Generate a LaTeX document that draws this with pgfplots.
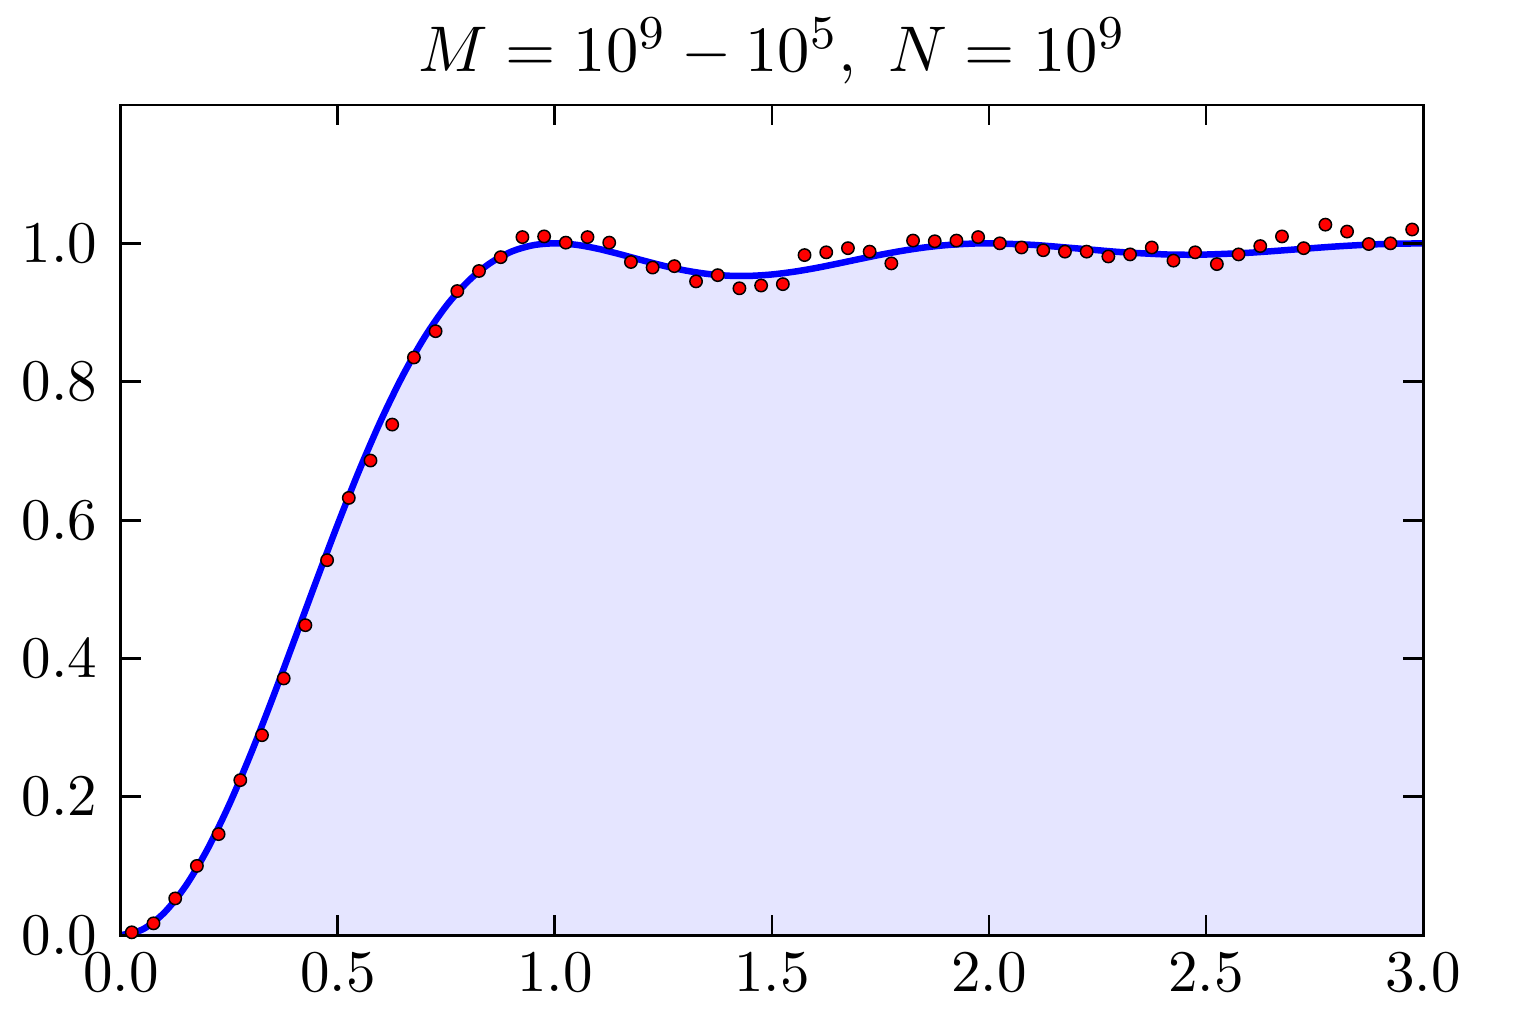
\documentclass[border=0pt]{standalone}
\usepackage{pgfplots}
\pgfplotsset{compat=1.18}
\begin{document}
\begin{tikzpicture}
\useasboundingbox (-20.5pt,-16.9pt) rectangle (235.95pt,158.5pt);
\begin{axis}[name=ax, at={(0,0)}, anchor=south west,
  scale only axis, width=220.7pt, height=140.7pt,
  xmin=0, xmax=3, ymin=0, ymax=1.2,
  xtick={0,0.5,1,1.5,2,2.5,3},
  ytick={0,0.2,0.4,0.6,0.8,1.0},
  tick align=inside, major tick length=3.4pt,
  xticklabel style={/pgf/number format/.cd,fixed,fixed zerofill,precision=1},
  yticklabel style={/pgf/number format/.cd,fixed,fixed zerofill,precision=1},
  tick label style={font=\fontsize{10}{12}\selectfont},
  xticklabel shift=-0.5pt, yticklabel shift=0.5pt,
  axis line style={line width=0.5pt}, every tick/.style={black, line width=0.5pt},
  title={$M=10^9-10^5,\ N=10^9$},
  title style={font=\fontsize{11}{13}\selectfont, yshift=-6pt},
  axis on top,
]
\addplot[draw=none, fill=blue!10] coordinates {
(0,0) (0.05,0.0082) (0.1,0.0325) (0.15,0.0719) (0.2,0.1249) (0.25,0.1894) (0.3,0.2632) (0.35,0.3434) (0.4,0.4272) (0.45,0.5119) (0.5,0.5947) (0.55,0.6733) (0.6,0.7454) (0.65,0.8096) (0.7,0.8647) (0.75,0.9099) (0.8,0.9453) (0.85,0.9711) (0.9,0.9881) (0.95,0.9973) (1.0,1.0) (1.05,0.9978) (1.1,0.9920) (1.15,0.9842) (1.2,0.9757) (1.25,0.9676) (1.3,0.9608) (1.35,0.9559) (1.4,0.9532) (1.45,0.9530) (1.5,0.9550) (1.55,0.9589) (1.6,0.9642) (1.65,0.9705) (1.7,0.9771) (1.75,0.9835) (1.8,0.9892) (1.85,0.9939) (1.9,0.9973) (1.95,0.9993) (2.0,1.0) (2.1,0.9978) (2.2,0.9928) (2.3,0.9875) (2.4,0.9841) (2.45,0.9835) (2.5,0.9838) (2.6,0.9864) (2.7,0.9909) (2.8,0.9955) (2.9,0.9988) (3.0,1.0)
} \closedcycle;
\addplot[blue, line width=1.1pt, smooth] coordinates {
(0,0) (0.05,0.0082) (0.1,0.0325) (0.15,0.0719) (0.2,0.1249) (0.25,0.1894) (0.3,0.2632) (0.35,0.3434) (0.4,0.4272) (0.45,0.5119) (0.5,0.5947) (0.55,0.6733) (0.6,0.7454) (0.65,0.8096) (0.7,0.8647) (0.75,0.9099) (0.8,0.9453) (0.85,0.9711) (0.9,0.9881) (0.95,0.9973) (1.0,1.0) (1.05,0.9978) (1.1,0.9920) (1.15,0.9842) (1.2,0.9757) (1.25,0.9676) (1.3,0.9608) (1.35,0.9559) (1.4,0.9532) (1.45,0.9530) (1.5,0.9550) (1.55,0.9589) (1.6,0.9642) (1.65,0.9705) (1.7,0.9771) (1.75,0.9835) (1.8,0.9892) (1.85,0.9939) (1.9,0.9973) (1.95,0.9993) (2.0,1.0) (2.1,0.9978) (2.2,0.9928) (2.3,0.9875) (2.4,0.9841) (2.45,0.9835) (2.5,0.9838) (2.6,0.9864) (2.7,0.9909) (2.8,0.9955) (2.9,0.9988) (3.0,1.0)
};
\addplot[only marks, mark=*, mark size=1.05pt, mark options={fill=red, draw=black, line width=0.25pt}] coordinates {
(0.025,0.004) (0.075,0.017) (0.125,0.053) (0.175,0.100) (0.225,0.146) (0.275,0.224) (0.325,0.289) (0.375,0.371) (0.425,0.448) (0.475,0.542) (0.525,0.632) (0.575,0.686) (0.625,0.738) (0.675,0.835) (0.725,0.873) (0.775,0.931) (0.825,0.960) (0.875,0.980) (0.925,1.009) (0.975,1.010) (1.025,1.001) (1.075,1.009) (1.125,1.001) (1.175,0.973) (1.225,0.965) (1.275,0.967) (1.325,0.945) (1.375,0.954) (1.425,0.935) (1.475,0.939) (1.525,0.941) (1.575,0.983) (1.625,0.987) (1.675,0.993) (1.725,0.988) (1.775,0.971) (1.825,1.004) (1.875,1.003) (1.925,1.004) (1.975,1.009) (2.025,1.000) (2.075,0.994) (2.125,0.990) (2.175,0.988) (2.225,0.988) (2.275,0.981) (2.325,0.984) (2.375,0.994) (2.425,0.975) (2.475,0.987) (2.525,0.970) (2.575,0.984) (2.625,0.996) (2.675,1.010) (2.725,0.993) (2.775,1.027) (2.825,1.017) (2.875,0.999) (2.925,1.000) (2.975,1.020)
};
\end{axis}
\end{tikzpicture}
\end{document}
